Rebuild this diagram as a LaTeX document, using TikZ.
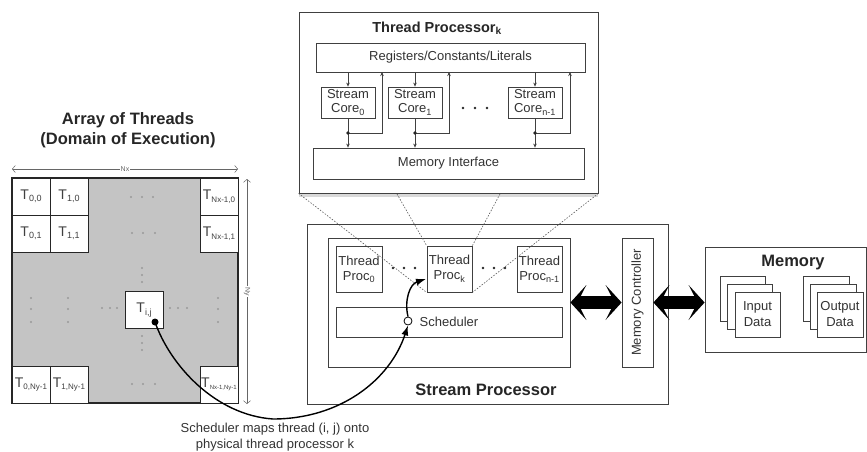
\documentclass[tikz,border=0pt]{standalone}
\usepackage{fontspec}
\setmainfont{Liberation Sans}
\usetikzlibrary{arrows.meta,shadows}

\newcommand{\thr}[2][9]{T\raisebox{-2.5pt}{\fontsize{#1}{#1}\selectfont #2}}

\tikzset{
  box/.style={draw=black!75, line width=0.8pt, fill=white, inner sep=0pt},
  lbl/.style={font=\fontsize{13}{15}\selectfont, text=black!80, align=center},
  ttl/.style={font=\fontsize{16.5}{20}\selectfont\bfseries, text=black!85, align=center},
  cell/.style={box, line width=1pt, draw=black!85, minimum width=38pt, minimum height=37pt,
    font=\fontsize{14}{14}\selectfont, text=black!75},
  sheet/.style={box, minimum width=45pt, minimum height=45pt},
  gdot/.style={fill=black!40},
  bdot/.style={fill=black!85},
  link/.style={draw=black!75, line width=0.6pt, -{Stealth[length=4pt,width=3.5pt]}},
  dim/.style={draw=black!60, line width=0.5pt, {Straight Barb[length=3pt,width=7pt]}-{Straight Barb[length=3pt,width=7pt]}},
  zoomline/.style={draw=black!65, line width=0.6pt, dash pattern=on 1.5pt off 1.5pt},
  bus/.style={line width=13pt, black,
    {Stealth[length=16pt,width=35pt,inset=9pt,line width=0pt]}-{Stealth[length=16pt,width=35pt,inset=9pt,line width=0pt]}},
  map/.style={line width=1.4pt, black, -{Latex[length=10pt,width=7pt]}},
}

\begin{document}
\begin{tikzpicture}[x=1pt, y=-1pt]
  \useasboundingbox (0,0) rectangle (867,452);

  % array of threads
  \node[ttl] (arrtitle) at (128,130) {Array of Threads\\(Domain of Execution)};
  \node[draw=black!85, line width=1.4pt, fill=black!23, inner sep=0pt,
        minimum width=226pt, minimum height=225pt] (grid) at (125,290.5) {};

  \node[cell] (c00) at (31,196.5) {\thr{0,0}};
  \node[cell] (c10) at (69,196.5) {\thr{1,0}};
  \node[cell] (cn0) at (219,196.5) {\thr[8]{Nx-1,0}};
  \node[cell] (c01) at (31,233.5) {\thr{0,1}};
  \node[cell] (c11) at (69,233.5) {\thr{1,1}};
  \node[cell] (cn1) at (219,233.5) {\thr[8]{Nx-1,1}};
  \node[cell] (c0n) at (31,384.5) {\thr[8]{0,Ny-1}};
  \node[cell] (c1n) at (69,384.5) {\thr[8]{1,Ny-1}};
  \node[cell] (cnn) at (219,384.5) {\thr[6]{Nx-1,Ny-1}};
  \node[cell] (cij) at (144,310) {\thr{i,j}};

  \fill[gdot] (131,197) circle (1.2) (142,197) circle (1.2) (153,197) circle (1.2);
  \fill[gdot] (132,233) circle (1.2) (143,233) circle (1.2) (155,233) circle (1.2);
  \fill[gdot] (132,384) circle (1.2) (143,384) circle (1.2) (155,384) circle (1.2);
  \fill[gdot] (31,298) circle (1.2) (31,309) circle (1.2) (31,322) circle (1.2);
  \fill[gdot] (68,298) circle (1.2) (68,309) circle (1.2) (68,322) circle (1.2);
  \fill[gdot] (218,298) circle (1.2) (218,309) circle (1.2) (218,322) circle (1.2);
  \fill[gdot] (142,268) circle (1.2) (142,275) circle (1.2) (142,282) circle (1.2);
  \fill[gdot] (142,336) circle (1.2) (142,343) circle (1.2) (142,350) circle (1.2);
  \fill[gdot] (102,308) circle (1.2) (110,308) circle (1.2) (117,308) circle (1.2);
  \fill[gdot] (170,308) circle (1.2) (178,308) circle (1.2) (187,308) circle (1.2);

  \coordinate (nxl) at (12,169);
  \coordinate (nxr) at (238,169);
  \coordinate (nyt) at (247,179);
  \coordinate (nyb) at (247,404);
  \draw[dim] (nxl) -- (nxr) node[midway, fill=white, inner sep=1pt, text=black!60,
    font=\fontsize{7}{7}\selectfont] (nx) {Nx};
  \draw[dim] (nyt) -- (nyb) node[midway, fill=white, inner sep=1pt, text=black!60, rotate=-90,
    font=\fontsize{7}{7}\selectfont] (ny) {Ny};

  % thread processor k
  \node[box, drop shadow={shadow xshift=0pt, shadow yshift=-4pt, opacity=0.3},
        minimum width=299pt, minimum height=181pt] (tp) at (448.5,102.5) {};
  \node[ttl, font=\fontsize{14.5}{16}\selectfont\bfseries] (tptitle) at (437,28)
    {Thread Processor\textsubscript{k}};
  \node[box, lbl, minimum width=269pt, minimum height=29pt] (reg) at (450.5,57.5)
    {Registers/Constants/Literals};
  \node[box, lbl, minimum width=271pt, minimum height=31pt] (memi) at (448.5,163.5)
    {Memory Interface};

  \node[box, lbl, font=\fontsize{13}{14}\selectfont, minimum width=54pt, minimum height=31pt]
    (core0) at (348,102.5) {Stream\\Core\textsubscript{0}};
  \node[box, lbl, font=\fontsize{13}{14}\selectfont, minimum width=54pt, minimum height=31pt]
    (core1) at (415,102.5) {Stream\\Core\textsubscript{1}};
  \node[box, lbl, font=\fontsize{13}{14}\selectfont, minimum width=54pt, minimum height=31pt]
    (coren) at (535,102.5) {Stream\\Core\textsubscript{n-1}};
  \fill[bdot] (463,108) circle (1.3) (475,108) circle (1.3) (487,108) circle (1.3);

  \coordinate (j0) at (348,133);
  \coordinate (j1) at (415,133);
  \coordinate (jn) at (535,133);
  \coordinate (u0) at (382,72);
  \coordinate (u1) at (449,72);
  \coordinate (un) at (570,72);

  \draw[link] (reg.south -| core0) -- (core0);
  \draw[link] (reg.south -| core1) -- (core1);
  \draw[link] (reg.south -| coren) -- (coren);
  \draw[link] (core0) -- (memi.north -| core0);
  \draw[link] (core1) -- (memi.north -| core1);
  \draw[link] (coren) -- (memi.north -| coren);
  \draw[link] (j0) -| (u0);
  \draw[link] (j1) -| (u1);
  \draw[link] (jn) -| (un);
  \fill[bdot] (j0) circle (1.8) (j1) circle (1.8) (jn) circle (1.8);

  % stream processor
  \node[box, minimum width=361pt, minimum height=180pt] (sp) at (487.5,314) {};
  \node[ttl] (sptitle) at (486,390) {Stream Processor};
  \node[box, minimum width=242pt, minimum height=129pt] (inner) at (449,302.5) {};
  \node[box, lbl, minimum width=46pt, minimum height=46pt] (proc0) at (359,269)
    {Thread\\Proc\textsubscript{0}};
  \node[box, lbl, minimum width=45pt, minimum height=46pt] (prock) at (449.5,269)
    {Thread\\Proc\textsubscript{k}};
  \node[box, lbl, minimum width=45pt, minimum height=46pt] (procn) at (539.5,269)
    {Thread\\Proc\textsubscript{n-1}};
  \fill[bdot] (393,268) circle (1.3) (404,268) circle (1.3) (415,268) circle (1.3);
  \fill[bdot] (483,268) circle (1.3) (494,268) circle (1.3) (505,268) circle (1.3);
  \node[box, lbl, minimum width=226pt, minimum height=30pt] (sched) at (449,322) {Scheduler};
  \node[circle, draw=black, line width=0.8pt, fill=white, minimum size=8pt, inner sep=0pt]
    (schin) at (408,321) {};

  \coordinate (tpl) at (397,194);
  \coordinate (tpr) at (500,194);
  \draw[zoomline] (tp.south west) -- (prock.south west);
  \draw[zoomline] (tpl) -- (prock.north west);
  \draw[zoomline] (tpr) -- (prock.north east);
  \draw[zoomline] (tp.south east) -- (prock.south east);

  \node[box, minimum width=31pt, minimum height=129pt] (memc) at (637.5,302.5) {};
  \node[lbl, rotate=90] (memctxt) at (memc.center) {Memory Controller};

  % memory
  \node[box, minimum width=161pt, minimum height=105pt] (mem) at (785.5,299.5) {};
  \node[ttl] (memtitle) at (793,263) {Memory};
  \node[sheet] (in3) at (742.5,298.5) {};
  \node[sheet] (in2) at (750,306.5) {};
  \node[sheet, lbl, font=\fontsize{13}{16}\selectfont] (in1) at (757.5,314.5) {Input\\Data};
  \node[sheet, minimum width=46pt] (out3) at (826,298.5) {};
  \node[sheet, minimum width=46pt] (out2) at (833,306.5) {};
  \node[sheet, lbl, minimum width=46pt, font=\fontsize{13}{16}\selectfont] (out1) at (840,314.5)
    {Output\\Data};

  \draw[bus] (inner) -- (memc);
  \draw[bus] (memc.east) -- (memc.east -| mem.west);

  % mapping of thread (i,j)
  \node[circle, fill=black, minimum size=7pt, inner sep=0pt] (tdot) at (155,322) {};
  \coordinate (pkin) at (426,279);
  \draw[map] (tdot.center) .. controls (170,365) and (215,415) .. (273,419)
    .. controls (340,419) and (390,380) .. (schin.south);
  \draw[map] (schin.north) .. controls (404,300) and (410,284) .. (pkin);
  \node[lbl, font=\fontsize{13}{16}\selectfont] (caption) at (275,437)
    {Scheduler maps thread (i, j) onto\\physical thread processor k};
\end{tikzpicture}
\end{document}
